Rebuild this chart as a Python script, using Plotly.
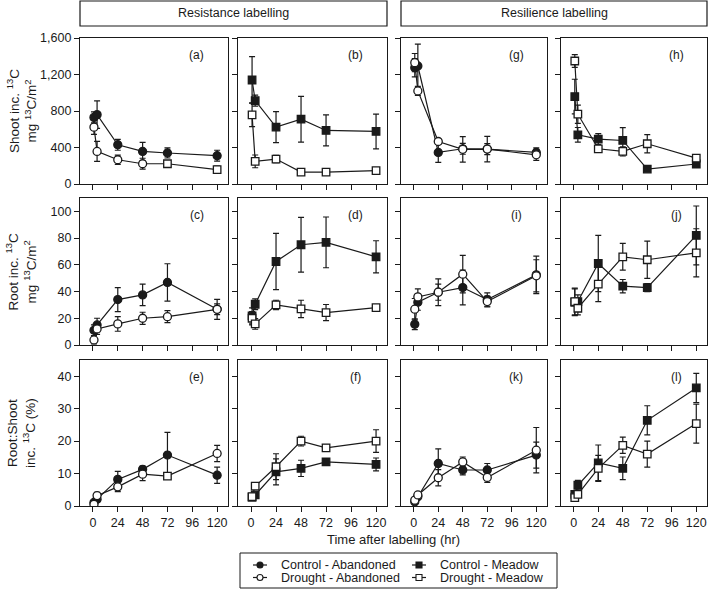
import plotly.graph_objects as go

hours = [1, 4, 24, 48, 72, 120]
x_ticks = [0, 24, 48, 72, 96, 120]
shoot_ticks = [0, 400, 800, 1200, 1600]
shoot_tick_text = ["0", "400", "800", "1,200", "1,600"]
root_ticks = [0, 20, 40, 60, 80, 100]
ratio_ticks = [0, 10, 20, 30, 40]

# ---- Shoot inc. 13C (mg 13C/m2) ----
a_ctrl = [730, 760, 430, 357, 340, 310]
a_ctrl_err = [60, 150, 60, 100, 55, 60]
a_drou = [623, 357, 266, 222, 222, 157]
a_drou_err = [80, 110, 50, 60, 30, 40]
b_ctrl = [1140, 914, 623, 710, 587, 576]
b_ctrl_err = [255, 60, 170, 250, 170, 190]
b_drou = [758, 248, 273, 131, 131, 146]
b_drou_err = [130, 70, 40, 20, 20, 15]
g_ctrl = [1275, 1293, 346, 386, 383, 346]
g_ctrl_err = [100, 240, 110, 60, 60, 50]
g_drou = [1330, 1020, 466, 380, 383, 320]
g_drou_err = [100, 50, 30, 140, 140, 60]
h_ctrl = [958, 539, 492, 477, 164, 219]
h_ctrl_err = [190, 80, 60, 140, 10, 20]
h_drou = [1348, 765, 386, 357, 441, 284]
h_drou_err = [70, 100, 30, 50, 100, 30]

# ---- Root inc. 13C (mg 13C/m2) ----
c_ctrl = [11, 15, 34, 37.5, 46.8, 26.7]
c_ctrl_err = [4, 5, 9, 8, 14, 7.5]
c_drou = [3.8, 12, 15.8, 20, 21.2, 26.7]
c_drou_err = [3, 4, 5.5, 4.5, 4.5, 4]
d_ctrl = [21.8, 30.5, 62.5, 75, 76.8, 66]
d_ctrl_err = [6, 4, 21, 20.5, 19, 12]
d_drou = [20, 15.8, 30, 27, 24.3, 28]
d_drou_err = [5, 4, 3.5, 6.5, 6, 1]
i_ctrl = [15.5, 32, 39.5, 43, 34, 52.5]
i_ctrl_err = [4, 6, 6, 13, 5, 14]
i_drou = [26.8, 36, 39.5, 53, 32.5, 51.8]
i_drou_err = [8, 6, 10, 14, 4, 12]
j_ctrl = [32, 32.5, 61, 44, 43, 82]
j_ctrl_err = [10, 5, 21, 5, 3, 22]
j_drou = [32.5, 27.5, 45.5, 66, 63.8, 69]
j_drou_err = [10, 5, 13, 10, 14, 18]

# ---- Root:Shoot inc. 13C (%) ----
e_ctrl = [1.1, 2.1, 8.2, 11.3, 15.7, 9.5]
e_ctrl_err = [0.5, 0.8, 2.5, 1, 7, 2.5]
e_drou = [0.5, 3.2, 5.9, 9.8, 9.2, 16.2]
e_drou_err = [0.3, 1, 1.5, 2, 0.5, 2.5]
f_ctrl = [2.7, 3.4, 10.5, 11.6, 13.6, 12.8]
f_ctrl_err = [0.5, 0.8, 4, 2.5, 1, 2]
f_drou = [2.9, 6.1, 12.1, 20, 17.9, 20]
f_drou_err = [0.5, 0.8, 4, 1.5, 1, 3.5]
k_ctrl = [1.3, 2.9, 13.1, 11.1, 11.1, 15.7]
k_ctrl_err = [0.5, 0.8, 4.5, 1.5, 2, 4]
k_drou = [1.8, 3.4, 8.7, 13.6, 8.8, 17.2]
k_drou_err = [0.5, 0.8, 2.5, 1.5, 1.5, 7]
l_ctrl = [3.6, 6.4, 13.3, 11.6, 26.4, 36.4]
l_ctrl_err = [0.8, 1.5, 5.5, 3.5, 4.5, 4.5]
l_drou = [2.6, 3.6, 11.6, 18.7, 16, 25.4]
l_drou_err = [0.5, 0.8, 4, 2.5, 4, 6]

panel_labels = ["(a)", "(b)", "(g)", "(h)",
                "(c)", "(d)", "(i)", "(j)",
                "(e)", "(f)", "(k)", "(l)"]
series_names = ["Control - Abandoned", "Drought - Abandoned",
                "Control - Meadow", "Drought - Meadow"]

panels = [
    (a_ctrl, a_ctrl_err, a_drou, a_drou_err),
    (b_ctrl, b_ctrl_err, b_drou, b_drou_err),
    (g_ctrl, g_ctrl_err, g_drou, g_drou_err),
    (h_ctrl, h_ctrl_err, h_drou, h_drou_err),
    (c_ctrl, c_ctrl_err, c_drou, c_drou_err),
    (d_ctrl, d_ctrl_err, d_drou, d_drou_err),
    (i_ctrl, i_ctrl_err, i_drou, i_drou_err),
    (j_ctrl, j_ctrl_err, j_drou, j_drou_err),
    (e_ctrl, e_ctrl_err, e_drou, e_drou_err),
    (f_ctrl, f_ctrl_err, f_drou, f_drou_err),
    (k_ctrl, k_ctrl_err, k_drou, k_drou_err),
    (l_ctrl, l_ctrl_err, l_drou, l_drou_err),
]

# the original figure shows a few drought-abandoned points drawn as squares
symbol_override = {
    0: ["circle", "circle", "circle", "circle", "square", "square"],
    8: ["circle", "circle", "circle", "circle", "square", "circle"],
}

FONT = "Liberation Sans, Arial, sans-serif"
INK = "#1a1a1a"
W, H = 709, 589
ML, MR, MT, MB = 80, 2, 38, 83
PW = W - ML - MR
PH = H - MT - MB


def px_x(p):
    return (p - ML) / PW


def px_y(p):
    return (H - MB - p) / PH


col_px = [(80, 228), (238, 387), (401, 547), (561, 707)]
row_px = [(38, 184), (198, 345), (360, 506)]
y_ranges = [[0, 1600], [0, 110], [0, 45]]

fig = go.Figure()
layout = {}
annotations = []
shapes = []

for idx, (ctrl, ctrl_err, drou, drou_err) in enumerate(panels):
    r, c = divmod(idx, 4)
    n = idx + 1
    xa = "x" if n == 1 else f"x{n}"
    ya = "y" if n == 1 else f"y{n}"
    meadow = c in (1, 3)
    sym = "square" if meadow else "circle"
    nm_c = series_names[2] if meadow else series_names[0]
    nm_d = series_names[3] if meadow else series_names[1]
    for k, (nm, vals, errs, fill) in enumerate([(nm_c, ctrl, ctrl_err, INK),
                                                (nm_d, drou, drou_err, "white")]):
        s = symbol_override.get(idx, sym) if k == 1 else sym
        if isinstance(s, list):
            sizes = [8 if q == "circle" else 7.5 for q in s]
        else:
            sizes = 8 if s == "circle" else 7.5
        fig.add_trace(go.Scatter(
            x=hours, y=vals, name=nm, showlegend=False,
            mode="lines+markers", xaxis=xa, yaxis=ya,
            line=dict(color=INK, width=1.2),
            marker=dict(symbol=s, size=sizes, opacity=1,
                        color=fill, line=dict(color=INK, width=1.3)),
            error_y=dict(type="data", array=errs, visible=True,
                         color=INK, thickness=1.2, width=3),
        ))
    x0, x1 = col_px[c]
    y0, y1 = row_px[r]
    axname_x = "xaxis" if n == 1 else f"xaxis{n}"
    axname_y = "yaxis" if n == 1 else f"yaxis{n}"
    layout[axname_x] = dict(
        domain=[px_x(x0), px_x(x1)], anchor=ya, range=[-12.5, 130.5],
        tickvals=x_ticks, showticklabels=(r == 2), ticks="outside",
        ticklen=5, tickwidth=1, tickcolor=INK, showline=True, mirror=True,
        linecolor=INK, linewidth=1.2, showgrid=False, zeroline=False,
        tickfont=dict(size=12.5, color=INK, family=FONT),
    )
    if r == 0:
        tv, tt = shoot_ticks, shoot_tick_text
    elif r == 1:
        tv, tt = root_ticks, [str(v) for v in root_ticks]
    else:
        tv, tt = ratio_ticks, [str(v) for v in ratio_ticks]
    layout[axname_y] = dict(
        domain=[px_y(y1), px_y(y0)], anchor=xa, range=y_ranges[r],
        tickvals=tv, ticktext=tt, showticklabels=(c == 0), ticks="outside",
        ticklen=5, tickwidth=1, tickcolor=INK, showline=True, mirror=True,
        linecolor=INK, linewidth=1.2, showgrid=False, zeroline=False,
        tickfont=dict(size=12.5, color=INK, family=FONT),
    )
    annotations.append(dict(
        text=panel_labels[idx], xref=f"{xa} domain", yref=f"{ya} domain",
        x=0.79, y=0.885, xanchor="center", yanchor="middle", showarrow=False,
        font=dict(size=12, color=INK, family=FONT),
    ))

# Row titles
row_titles = ["Shoot inc. <sup>13</sup>C<br>mg <sup>13</sup>C/m<sup>2</sup>",
              "Root inc. <sup>13</sup>C<br>mg <sup>13</sup>C/m<sup>2</sup>",
              "Root:Shoot<br>inc. <sup>13</sup>C (%)"]
for r, t in enumerate(row_titles):
    y0, y1 = row_px[r]
    annotations.append(dict(
        text=t, xref="paper", yref="paper", x=px_x(21), y=px_y((y0 + y1) / 2),
        xanchor="center", yanchor="middle", textangle=-90, showarrow=False,
        font=dict(size=13.5, color=INK, family=FONT),
    ))

# x title
annotations.append(dict(
    text="Time after labelling (hr)", xref="paper", yref="paper",
    x=px_x(393), y=px_y(539), xanchor="center", yanchor="middle",
    showarrow=False, font=dict(size=13, color=INK, family=FONT),
))

# header boxes
for (bx0, bx1, label) in [(80, 387, "Resistance labelling"),
                          (401, 707, "Resilience labelling")]:
    shapes.append(dict(type="rect", xref="paper", yref="paper",
                       x0=px_x(bx0), x1=px_x(bx1), y0=px_y(26), y1=px_y(1),
                       line=dict(color=INK, width=1.2), fillcolor="white"))
    annotations.append(dict(
        text=label, xref="paper", yref="paper", x=px_x((bx0 + bx1) / 2),
        y=px_y(13.5), xanchor="center", yanchor="middle", showarrow=False,
        font=dict(size=12.5, color=INK, family=FONT),
    ))

# legend (drawn as a key box below the panels)
shapes.append(dict(type="rect", xref="paper", yref="paper",
                   x0=px_x(240), x1=px_x(557), y0=px_y(588), y1=px_y(553),
                   line=dict(color=INK, width=1)))
legend_items = [
    (series_names[0], "circle", INK, 253, 565),
    (series_names[1], "circle", "white", 253, 577.5),
    (series_names[2], "square", INK, 412, 565),
    (series_names[3], "square", "white", 412, 577.5),
]
for name, sym, fill, lx, ly in legend_items:
    shapes.append(dict(type="line", xref="paper", yref="paper",
                       x0=px_x(lx), x1=px_x(lx + 14), y0=px_y(ly), y1=px_y(ly),
                       line=dict(color=INK, width=1.2)))
    cx = lx + 7
    rr = 3
    shapes.append(dict(type="circle" if sym == "circle" else "rect",
                       xref="paper", yref="paper",
                       x0=px_x(cx - rr), x1=px_x(cx + rr),
                       y0=px_y(ly + rr), y1=px_y(ly - rr),
                       line=dict(color=INK, width=1.1), fillcolor=fill))
    annotations.append(dict(
        text=name, xref="paper", yref="paper", x=px_x(lx + 26), y=px_y(ly),
        xanchor="left", yanchor="middle", showarrow=False,
        font=dict(size=12.5, color=INK, family=FONT),
    ))

fig.update_layout(
    width=W, height=H,
    margin=dict(l=ML, r=MR, t=MT, b=MB),
    paper_bgcolor="white", plot_bgcolor="white",
    font=dict(family=FONT, size=12.5, color=INK),
    annotations=annotations, shapes=shapes, showlegend=False,
    **layout,
)

fig.write_html("out.html", config={"displayModeBar": False},
               post_script="document.body.style.margin='0px';")
